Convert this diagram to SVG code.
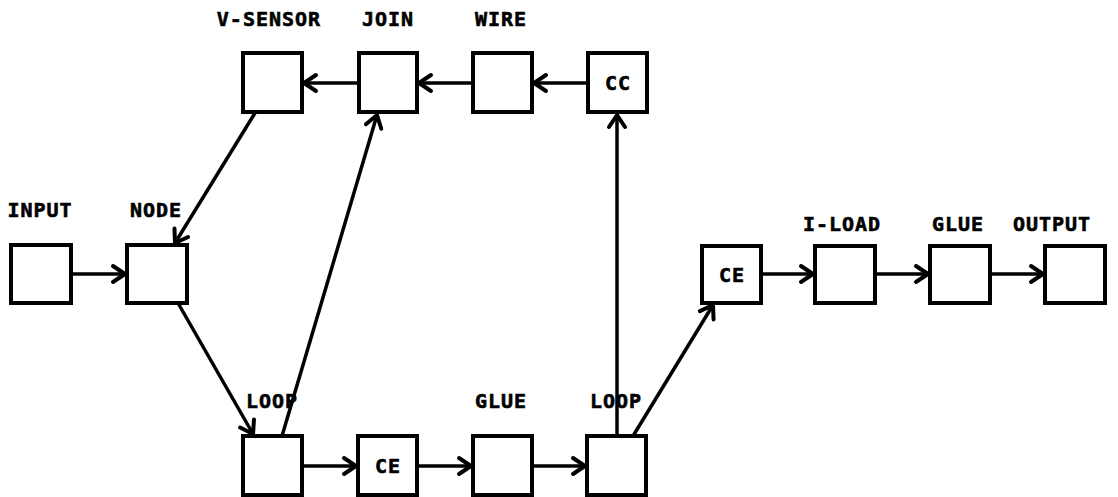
<svg xmlns="http://www.w3.org/2000/svg" width="1118" height="497" viewBox="0 0 1118 497">
<style>
.box{fill:#fff;stroke:#000;stroke-width:4}
.lbl{font-family:"DejaVu Sans Mono","Liberation Mono",monospace;font-weight:bold;font-size:20px;letter-spacing:1px;fill:#000;stroke:#000;stroke-width:0.6;text-anchor:middle}
.in{dominant-baseline:central}
.c{fill:none;stroke:#000;stroke-width:3.5;marker-end:url(#ah)}
</style>
<defs>
<marker id="ah" markerUnits="userSpaceOnUse" markerWidth="24" markerHeight="24" viewBox="-16 -12 18 24" refX="0" refY="0" orient="auto">
<path d="M-12,-8 L0,0 L-12,8" fill="none" stroke="#000" stroke-width="4" stroke-linecap="round" stroke-linejoin="round"/>
</marker>
</defs>
<rect width="1118" height="497" fill="#fff"/>
<g id="connectors">
<line class="c" x1="359" y1="83" x2="304" y2="83"/>
<line class="c" x1="473" y1="83" x2="419" y2="83"/>
<line class="c" x1="588" y1="83" x2="534" y2="83"/>
<line class="c" x1="617" y1="436" x2="617" y2="115"/>
<line class="c" x1="255" y1="113" x2="175" y2="243"/>
<line class="c" x1="282" y1="436" x2="377" y2="115"/>
<line class="c" x1="178" y1="303" x2="253" y2="434"/>
<line class="c" x1="71" y1="274" x2="125" y2="274"/>
<line class="c" x1="302" y1="466" x2="356" y2="466"/>
<line class="c" x1="417" y1="466" x2="471" y2="466"/>
<line class="c" x1="532" y1="466" x2="585" y2="466"/>
<line class="c" x1="633" y1="436" x2="713" y2="305"/>
<line class="c" x1="761" y1="274" x2="813" y2="274"/>
<line class="c" x1="875" y1="274" x2="928" y2="274"/>
<line class="c" x1="990" y1="274" x2="1043" y2="274"/>
</g>
<g id="v-sensor"><rect class="box" x="243" y="53" width="59" height="59"/><text class="lbl" x="269" y="26">V-SENSOR</text></g>
<g id="join"><rect class="box" x="359" y="53" width="58" height="59"/><text class="lbl" x="388" y="26">JOIN</text></g>
<g id="wire"><rect class="box" x="473" y="53" width="59" height="59"/><text class="lbl" x="501" y="26">WIRE</text></g>
<g id="cc"><rect class="box" x="588" y="53" width="59" height="59"/><text class="lbl in" x="618" y="83">CC</text></g>
<g id="input"><rect class="box" x="11" y="245" width="60" height="58"/><text class="lbl" x="40" y="217">INPUT</text></g>
<g id="node"><rect class="box" x="127" y="245" width="60" height="58"/><text class="lbl" x="156" y="217">NODE</text></g>
<g id="loop1"><rect class="box" x="243" y="436" width="59" height="59"/><text class="lbl" x="272" y="408">LOOP</text></g>
<g id="ce1"><rect class="box" x="358" y="436" width="59" height="59"/><text class="lbl in" x="388" y="466">CE</text></g>
<g id="glue1"><rect class="box" x="473" y="436" width="59" height="59"/><text class="lbl" x="501" y="408">GLUE</text></g>
<g id="loop2"><rect class="box" x="587" y="436" width="59" height="59"/><text class="lbl" x="616" y="408">LOOP</text></g>
<g id="ce2"><rect class="box" x="702" y="246" width="59" height="57"/><text class="lbl in" x="732" y="275">CE</text></g>
<g id="i-load"><rect class="box" x="815" y="246" width="60" height="57"/><text class="lbl" x="842" y="231">I-LOAD</text></g>
<g id="glue2"><rect class="box" x="930" y="246" width="60" height="57"/><text class="lbl" x="958" y="231">GLUE</text></g>
<g id="output"><rect class="box" x="1045" y="246" width="60" height="57"/><text class="lbl" x="1052" y="231">OUTPUT</text></g>
</svg>
